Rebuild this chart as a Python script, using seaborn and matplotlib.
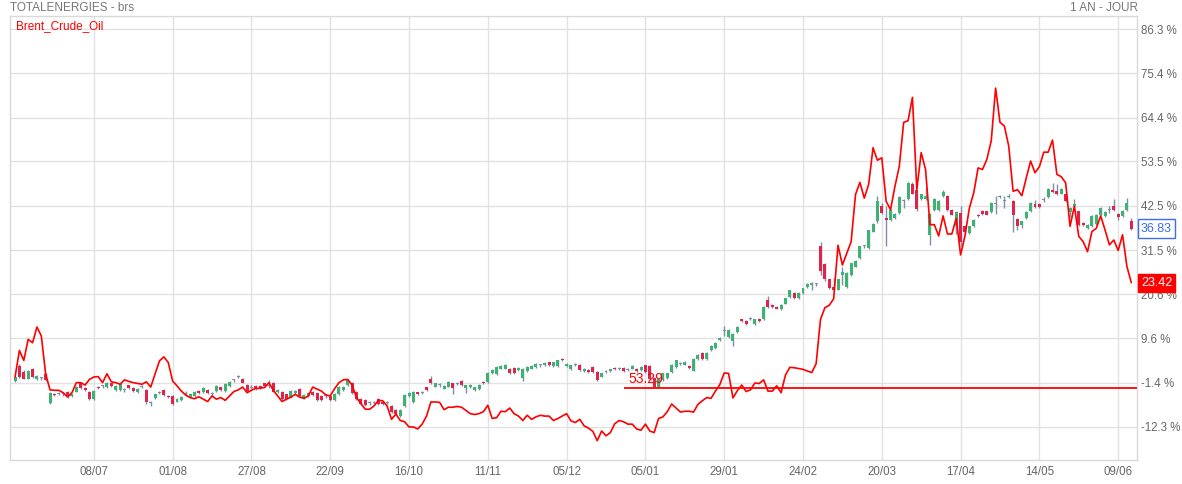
import matplotlib
matplotlib.use("Agg")
import matplotlib.pyplot as plt
import matplotlib.transforms as mtransforms
import seaborn as sns
import pandas as pd
import numpy as np

# -------------------------
# data (% change since first session), one entry per trading day
# -------------------------
opens = [
    -1.1, 2.7, 1.3, -0.4, 1.9, -0.6, -0.2, 0.8, -6.4, -4.1,
    -4.0, -4.2, -3.7, -4.7, -3.6, -1.4, -2.8, -3.7, -5.5, -2.5,
    -2.3, -2.5, -1.6, -3.2, -3.2, -3.2, -2.1, -2.8, -3.7, -2.4,
    -3.2, -6.5, -5.3, -3.8, -3.2, -4.7, -4.7, -6.1, -5.7, -4.15,
    -4.95, -4.8, -3.5, -3.7, -3.3, -4.1, -3.5, -2.6, -3.5, -2.2,
    -0.8, 0.1, -0.4, -2.0, -2.6, -2.3, -2.3, -1.6, -2.2, -1.5,
    -3.7, -3.7, -4.3, -5.1, -3.9, -2.9, -5.3, -4.7, -3.7, -4.0,
    -4.7, -4.7, -4.7, -5.8, -4.3, -3.3, -2.0, -1.4, -3.7, -5.4,
    -5.7, -6.4, -6.3, -5.5, -6.1, -6.3, -7.2, -8.2, -9.7, -7.3,
    -4.8, -6.3, -3.8, -3.8, -2.6, -0.5, -2.4, -2.0, -2.9, -2.4,
    -1.6, -1.6, -1.0, -2.8, -2.6, -3.2, -3.0, -1.2, -1.2, 0.9,
    0.8, 2.1, 2.1, 2.1, 2.3, 1.7, -0.3, 1.4, 2.1, 2.5,
    2.9, 2.9, 3.6, 2.7, 2.7, 4.5, 2.7, 1.9, 3.1, 3.1,
    1.4, 1.7, 2.5, 1.3, 0.1, 1.3, 1.4, 2.3, 2.1, 2.3,
    1.9, 2.1, 2.1, 1.7, 2.9, 2.7, -0.3, -2.4, -0.7, -0.2,
    1.3, 2.5, 3.3, 3.1, 2.7, 1.6, 4.4, 6.0, 4.4, 6.6,
    7.1, 9.1, 11.4, 9.9, 8.9, 11.2, 14.3, 14.0, 14.5, 13.1,
    14.5, 14.3, 19.0, 17.9, 17.4, 16.8, 18.2, 19.8, 20.9, 19.5,
    20.9, 22.3, 22.8, 23.0, 32.4, 28.0, 24.2, 22.4, 21.7, 25.3,
    22.4, 25.3, 27.4, 29.5, 32.4, 32.0, 36.1, 38.6, 42.5, 39.4,
    39.0, 39.4, 40.7, 43.6, 44.2, 48.0, 46.3, 44.2, 44.2, 35.3,
    41.5, 41.4, 45.0, 45.0, 41.5, 37.4, 40.7, 37.5, 35.7, 37.4,
    40.3, 41.3, 41.1, 40.9, 43.0, 44.7, 43.6, 44.7, 43.8, 39.2,
    37.8, 39.4, 41.1, 43.0, 43.0, 44.0, 44.7, 46.3, 46.1, 45.5,
    45.3, 40.9, 42.4, 41.1, 38.2, 36.9, 37.5, 38.0, 40.3, 40.0,
    41.5, 42.5, 40.5, 40.0, 41.5, 38.6,
]
highs = [
    0.3, 3.3, 1.7, 1.7, 2.2, 0.5, 0.1, 1.0, -3.7, -3.9,
    -3.6, -3.9, -3.5, -4.1, -2.3, -1.2, -2.6, -3.5, -3.3, -2.3,
    -1.9, -1.2, -1.4, -2.0, -1.6, -2.8, -1.9, -2.6, -2.8, -2.0,
    -3.0, -5.9, -4.1, -3.4, -3.0, -4.5, -4.5, -5.3, -4.7, -3.5,
    -4.1, -3.4, -3.3, -2.6, -3.1, -3.7, -2.0, -2.4, -1.6, -1.0,
    -0.4, 0.6, -0.2, -1.8, -2.0, -2.1, -2.1, -1.4, -0.7, -1.3,
    -3.0, -3.5, -4.1, -3.3, -3.3, -2.7, -4.2, -3.7, -3.5, -3.8,
    -4.5, -4.3, -4.5, -3.9, -2.3, -2.3, -0.6, -1.2, -3.5, -5.2,
    -5.5, -5.9, -5.9, -5.3, -5.9, -5.9, -7.0, -8.0, -7.9, -4.2,
    -3.8, -3.4, -3.6, -3.4, -2.4, 0.2, -1.4, -1.6, -2.0, -1.0,
    -1.4, -1.2, -0.8, -1.9, -1.8, -2.4, -1.8, -1.0, 1.2, 1.9,
    2.7, 2.9, 3.3, 2.3, 2.5, 2.5, 2.3, 2.7, 2.9, 3.5,
    3.3, 3.7, 3.8, 3.8, 4.3, 4.8, 3.5, 3.1, 3.5, 3.3,
    2.3, 1.9, 2.7, 1.5, 1.1, 1.7, 2.1, 2.5, 2.5, 2.5,
    2.3, 2.9, 2.3, 2.7, 3.1, 2.9, -0.1, -0.3, 1.1, 1.1,
    3.3, 4.3, 3.8, 3.9, 2.9, 4.6, 5.6, 6.2, 6.2, 7.9,
    8.7, 10.0, 12.6, 11.9, 10.8, 12.6, 14.5, 14.2, 14.9, 14.5,
    14.7, 17.6, 20.0, 18.1, 17.6, 18.1, 19.7, 21.7, 21.1, 21.1,
    22.2, 23.4, 23.5, 23.4, 33.5, 28.2, 24.4, 24.6, 24.4, 27.2,
    26.1, 28.4, 29.1, 32.6, 32.8, 36.6, 38.2, 45.0, 43.2, 42.4,
    41.6, 40.7, 44.9, 44.2, 48.4, 48.5, 46.5, 45.5, 47.1, 40.7,
    44.5, 44.0, 46.3, 45.2, 41.7, 41.1, 42.4, 37.7, 37.6, 39.2,
    40.5, 41.5, 41.3, 43.5, 45.0, 45.2, 45.0, 45.4, 44.0, 39.4,
    38.8, 41.1, 43.4, 43.9, 43.2, 44.6, 46.9, 48.2, 47.8, 46.9,
    45.5, 42.1, 44.2, 41.3, 38.4, 38.0, 40.1, 40.5, 42.1, 41.1,
    42.5, 44.1, 40.7, 41.5, 44.4, 39.4,
]
lows = [
    -1.3, -0.3, -0.6, -0.6, -0.2, -0.8, -0.7, -1.0, -6.6, -4.7,
    -4.4, -4.6, -5.1, -4.9, -3.8, -3.0, -3.5, -5.6, -5.7, -3.0,
    -2.8, -2.7, -2.4, -3.4, -3.4, -3.6, -3.0, -3.7, -3.9, -2.8,
    -6.6, -7.2, -5.5, -4.1, -4.7, -5.1, -7.0, -6.3, -5.9, -4.6,
    -5.1, -5.0, -4.1, -3.9, -4.2, -4.8, -3.7, -3.5, -3.7, -2.4,
    -1.2, -0.3, -1.6, -3.7, -3.0, -3.2, -3.0, -2.4, -2.8, -3.8,
    -3.9, -5.7, -5.7, -5.3, -4.1, -4.9, -5.5, -4.9, -4.6, -6.0,
    -6.0, -5.1, -6.0, -6.0, -4.5, -3.5, -2.2, -4.1, -5.7, -7.0,
    -7.1, -7.0, -6.8, -7.0, -7.0, -6.8, -8.9, -9.5, -9.9, -7.5,
    -5.0, -6.5, -4.4, -4.2, -3.5, -1.8, -2.6, -2.4, -3.1, -2.6,
    -4.2, -2.0, -2.3, -4.0, -2.8, -3.4, -3.2, -1.8, -1.4, 0.7,
    0.6, 1.9, 1.9, 0.7, 0.7, 1.5, -0.9, 1.2, 1.9, 2.3,
    2.5, 2.7, 2.7, 2.5, 2.5, 3.9, 2.5, 1.7, 2.7, 1.5,
    1.2, 1.1, 1.1, -1.0, -0.1, 0.9, 1.2, 1.7, 1.7, 1.2,
    1.5, 1.9, 1.2, 1.5, 1.1, -0.7, -2.6, -2.6, -0.9, -0.4,
    1.1, 2.3, 2.9, 2.9, 2.1, 1.4, 4.2, 4.2, 4.2, 6.4,
    6.9, 8.9, 10.2, 9.7, 7.7, 11.0, 13.7, 12.9, 14.1, 12.9,
    13.7, 14.1, 17.2, 17.2, 16.8, 16.6, 18.0, 19.6, 19.3, 19.3,
    20.7, 22.1, 21.5, 22.6, 25.4, 23.9, 21.9, 21.3, 21.5, 22.8,
    22.2, 25.1, 27.2, 29.3, 32.0, 31.8, 35.9, 38.2, 40.5, 32.4,
    38.8, 39.2, 40.5, 41.9, 44.0, 45.3, 41.2, 44.0, 44.0, 32.8,
    41.3, 41.2, 44.8, 41.2, 40.1, 35.5, 32.4, 35.7, 35.5, 37.2,
    39.7, 40.3, 40.1, 40.7, 40.5, 44.5, 42.0, 44.5, 36.1, 36.5,
    37.0, 39.2, 40.9, 42.0, 42.0, 43.5, 44.5, 45.7, 45.1, 45.3,
    43.4, 39.7, 42.2, 37.6, 37.6, 36.7, 37.3, 37.8, 40.1, 39.8,
    40.8, 41.3, 39.0, 39.8, 41.3, 36.5,
]
closes = [
    0.0, 0.0, -0.4, 1.5, 0.0, 0.3, -0.3, -0.8, -3.9, -4.5,
    -4.1, -4.2, -5.0, -4.3, -2.5, -2.8, -3.3, -5.4, -3.5, -2.8,
    -2.35, -1.4, -2.2, -2.2, -1.8, -3.25, -2.8, -3.5, -3.0, -2.45,
    -6.1, -6.55, -4.3, -3.85, -4.5, -4.95, -6.8, -5.5, -4.95, -4.1,
    -4.3, -3.6, -3.95, -2.8, -4.0, -4.15, -2.2, -3.3, -1.8, -1.2,
    -0.85, 0.05, -1.4, -3.5, -2.65, -3.0, -2.8, -2.2, -2.25, -3.6,
    -3.2, -5.5, -5.5, -3.5, -3.5, -4.7, -4.45, -3.9, -4.45, -5.8,
    -5.8, -4.75, -5.8, -4.1, -2.5, -2.5, -0.8, -3.9, -5.5, -6.8,
    -6.9, -6.45, -6.35, -6.8, -6.8, -6.35, -8.7, -9.2, -8.1, -4.4,
    -4.0, -3.6, -4.2, -3.85, -3.3, -1.6, -1.6, -2.05, -2.2, -1.2,
    -2.8, -1.65, -2.1, -2.1, -2.0, -2.6, -2.0, -1.6, 1.0, 1.7,
    2.5, 2.7, 3.1, 0.9, 0.9, 2.3, 2.1, 2.5, 2.7, 3.3,
    2.95, 3.5, 2.9, 3.6, 4.1, 4.1, 3.3, 2.9, 3.05, 1.7,
    2.1, 1.3, 1.3, -0.8, 0.9, 1.25, 1.9, 1.9, 2.05, 1.4,
    1.85, 2.7, 1.4, 2.5, 1.3, -0.5, -2.4, -0.5, 0.9, 0.9,
    3.1, 4.1, 3.35, 3.7, 2.3, 4.4, 5.4, 4.4, 6.0, 7.7,
    8.5, 9.8, 11.45, 11.7, 10.6, 12.4, 13.9, 13.1, 14.45, 14.3,
    13.9, 17.4, 17.4, 17.4, 17.0, 17.9, 19.5, 21.5, 19.5, 20.9,
    22.0, 23.2, 23.3, 23.05, 26.2, 24.2, 22.1, 21.7, 24.2, 26.1,
    25.9, 28.2, 28.9, 32.4, 32.5, 36.4, 38.0, 43.8, 40.7, 39.0,
    41.4, 40.5, 44.7, 43.7, 48.2, 45.5, 41.7, 45.3, 45.0, 40.5,
    44.3, 43.8, 45.8, 41.4, 40.3, 40.9, 33.6, 35.9, 37.4, 39.0,
    39.9, 40.5, 40.3, 43.3, 43.05, 45.0, 43.65, 45.0, 40.3, 37.5,
    38.6, 40.9, 43.2, 42.2, 42.2, 44.05, 46.7, 45.9, 45.3, 46.7,
    43.6, 41.9, 43.0, 37.8, 37.8, 37.8, 39.9, 40.3, 41.9, 40.9,
    41.55, 41.5, 39.7, 41.3, 43.2, 36.83,
]
brent = [
    0.0, 6.6, 4.1, 9.35, 8.5, 12.4, 10.2, 0.7, -3.2, -3.3,
    -3.3, -3.9, -4.95, -3.9, -1.4, -1.4, -2.0, -0.6, 0.0, 0.1,
    -1.4, 0.8, -1.2, -1.4, -1.8, -0.7, -1.1, -1.4, -1.6, -1.8,
    -1.2, -2.5, 0.8, 4.0, 5.0, 3.6, -1.0, -2.2, -3.5, -4.5,
    -5.1, -5.4, -4.9, -5.5, -6.1, -4.7, -5.5, -5.1, -5.8, -4.7,
    -3.6, -3.2, -2.5, -3.9, -3.3, -2.8, -2.8, -2.6, -1.4, -3.3,
    -4.7, -6.1, -5.5, -5.0, -4.3, -5.0, -5.3, -4.7, -2.5, -3.0,
    -3.5, -4.45, -4.7, -2.9, -1.4, -0.7, -0.6, -2.0, -5.1, -6.6,
    -8.0, -8.0, -7.2, -5.8, -5.9, -7.2, -10.5, -9.2, -10.8, -11.1,
    -12.4, -12.4, -12.9, -11.7, -9.7, -6.2, -6.2, -6.3, -8.1, -7.5,
    -7.5, -7.3, -7.5, -8.3, -9.1, -9.3, -9.1, -8.6, -7.0, -10.3,
    -10.1, -8.5, -8.6, -7.7, -9.1, -9.7, -10.8, -9.5, -10.5, -9.9,
    -9.5, -9.7, -9.7, -10.8, -10.3, -9.7, -9.1, -10.9, -11.3, -10.5,
    -12.1, -12.7, -13.5, -15.8, -13.4, -14.6, -13.8, -11.6, -10.8, -11.1,
    -11.7, -11.7, -12.9, -13.2, -11.7, -13.4, -13.8, -10.3, -9.9, -8.6,
    -6.7, -7.7, -8.7, -8.5, -8.5, -8.7, -6.8, -5.9, -5.1, -5.3,
    -3.5, -1.9, 1.0, 0.9, -5.2, -3.4, -2.0, -3.6, -3.2, -1.5,
    -1.6, -0.7, -3.5, -3.5, -2.2, -3.9, 0.5, 2.4, 2.3, 2.1,
    1.9, 1.5, 1.1, 3.3, 14.3, 17.2, 17.8, 19.4, 32.7, 27.8,
    30.7, 33.6, 45.3, 48.3, 44.4, 47.8, 56.9, 53.8, 54.4, 43.6,
    41.5, 47.3, 52.3, 63.2, 63.6, 69.4, 46.5, 55.7, 51.5, 37.8,
    37.8, 35.0, 40.0, 35.5, 35.5, 39.4, 30.3, 35.0, 41.9, 45.7,
    51.9, 51.5, 54.0, 58.6, 71.7, 63.2, 62.3, 57.3, 46.1, 46.5,
    45.0, 49.4, 53.6, 50.7, 52.2, 55.8, 55.8, 58.8, 50.3, 49.7,
    48.2, 37.4, 42.4, 34.9, 33.6, 31.1, 36.1, 36.9, 40.0, 36.5,
    32.8, 34.0, 31.4, 35.3, 27.4, 23.42,
]

date_labels = ["08/07", "01/08", "27/08", "22/09", "16/10", "11/11", "05/12",
               "05/01", "29/01", "24/02", "20/03", "17/04", "14/05", "09/06"]
date_days = [18, 36, 54, 72, 90, 108, 126, 144, 162, 180, 198, 216, 234, 252]
pct_ticks = [86.3, 75.4, 64.4, 53.5, 42.5, 31.5, 20.6, 9.6, -1.4, -12.3]

alert_level = -2.65
alert_text = "53.29"
alert_start_day = 139

# -------------------------
# build frame
# -------------------------
df = pd.DataFrame({"open": opens, "high": highs, "low": lows,
                   "close": closes, "brent": brent})
df["day"] = np.arange(len(df))

GREEN = "#3cb371"
RED = "#e0234a"
GREY = "#7f8ea8"

def candle_color(row):
    if abs(row["close"] - row["open"]) < 0.12:
        return GREY
    return GREEN if row["close"] > row["open"] else RED

df["color"] = df.apply(candle_color, axis=1)
df["body_low"] = df[["open", "close"]].min(axis=1)
df["body_h"] = (df["close"] - df["open"]).abs().clip(lower=0.25)

sns.set_style("white")
plt.rcParams["font.family"] = ["Liberation Sans", "DejaVu Sans"]

fig = plt.figure(figsize=(11.82, 4.84), dpi=100)
ax = fig.add_axes([10 / 1182, 24 / 484, 1127 / 1182, 444 / 484])

# wicks + bodies
ax.vlines(df["day"], df["low"], df["high"], color=GREY, lw=1, zorder=2)
ax.bar(df["day"], df["body_h"], bottom=df["body_low"], width=0.68,
       color=df["color"], linewidth=0, zorder=3)

# brent comparison line
sns.lineplot(data=df, x="day", y="brent", color="#ff0000", lw=1.2,
             ax=ax, zorder=4, legend=False)

# alert line
ax.hlines(alert_level, alert_start_day, 256.3, color="#ff0000", lw=1.3, zorder=5)
ax.text(alert_start_day + 1.2, alert_level + 0.3, alert_text, color="#ff0000",
        fontsize=10, va="bottom", ha="left", zorder=6)

# axes styling
ax.set_xlim(-1.15, 256.3)
ax.set_ylim(-20.6, 89.6)
ax.set_xticks(date_days)
ax.set_xticklabels(date_labels)
ax.set_yticks(pct_ticks)
ax.set_yticklabels([f"{v} %" for v in pct_ticks])
ax.yaxis.tick_right()
ax.tick_params(axis="both", length=0, colors="#666666", labelsize=8.3)
ax.tick_params(axis="y", pad=3)
ax.tick_params(axis="x", pad=4)
ax.set_xlabel("")
ax.set_ylabel("")
ax.grid(True, color="#e2e2e2", lw=1, zorder=0)
ax.set_axisbelow(True)
for sp in ax.spines.values():
    sp.set_color("#d9d9d9")
    sp.set_linewidth(1)

# last value boxes
trans = mtransforms.blended_transform_factory(fig.transFigure, ax.transData)
ax.text(1141 / 1182, closes[-1], f"{closes[-1]:.2f}", transform=trans,
        color="#3a6df0", fontsize=9, va="center", ha="left",
        bbox=dict(boxstyle="square,pad=0.25", fc="white", ec="#3a6df0", lw=1),
        clip_on=False, zorder=7)
ax.text(1141 / 1182, brent[-1], f"{brent[-1]:.2f}", transform=trans,
        color="white", fontsize=9, va="center", ha="left",
        bbox=dict(boxstyle="square,pad=0.25", fc="#ff0000", ec="#ff0000", lw=1),
        clip_on=False, zorder=7)

# headers
fig.text(10 / 1182, 1 - 8 / 484, "TOTALENERGIES - brs", color="#777777",
         fontsize=8.5, va="center", ha="left")
fig.text(1138 / 1182, 1 - 8 / 484, "1 AN - JOUR", color="#777777",
         fontsize=8.5, va="center", ha="right")
ax.text(0.005, 0.99, "Brent_Crude_Oil", transform=ax.transAxes, color="#ff0000",
        fontsize=8.5, va="top", ha="left")

fig.savefig("out.png", dpi=100)
